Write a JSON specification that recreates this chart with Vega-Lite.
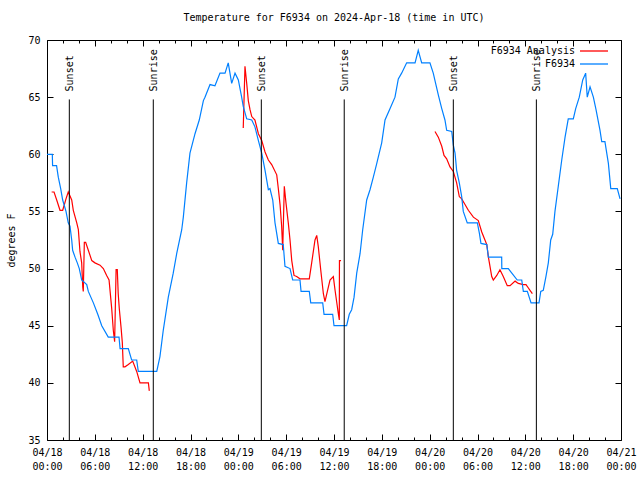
{
  "$schema": "https://vega.github.io/schema/vega-lite/v6.json",
  "width": 574,
  "height": 400,
  "autosize": {"type": "none"},
  "padding": {"left": 47, "top": 40, "right": 19, "bottom": 40},
  "background": "white",
  "title": {"text": "Temperature for F6934 on 2024-Apr-18 (time in UTC)", "font": "DejaVu Sans Mono", "fontSize": 10, "fontWeight": "normal", "color": "black", "anchor": "middle", "offset": 12},
  "config": {
    "font": "DejaVu Sans Mono",
    "view": {"stroke": "black", "strokeWidth": 1},
    "axis": {"labelFont": "DejaVu Sans Mono", "labelFontSize": 10, "labelColor": "black", "titleFont": "DejaVu Sans Mono", "titleFontSize": 10, "titleFontWeight": "normal", "titleColor": "black", "tickColor": "black", "domain": false, "grid": false}
  },
  "datasets": {
    "events": [
      {"label": "Sunset", "t": "2024-04-18T02:48:00Z"},
      {"label": "Sunrise", "t": "2024-04-18T13:20:00Z"},
      {"label": "Sunset", "t": "2024-04-19T02:53:00Z"},
      {"label": "Sunrise", "t": "2024-04-19T13:17:00Z"},
      {"label": "Sunset", "t": "2024-04-20T02:58:00Z"},
      {"label": "Sunrise", "t": "2024-04-20T13:23:00Z"}
    ],
    "temps": [
      {"s": "F6934 Analysis", "g": "a", "t": "2024-04-18T00:35:00Z", "v": 56.7},
      {"s": "F6934 Analysis", "g": "a", "t": "2024-04-18T00:53:00Z", "v": 56.7},
      {"s": "F6934 Analysis", "g": "a", "t": "2024-04-18T01:13:00Z", "v": 56.0},
      {"s": "F6934 Analysis", "g": "a", "t": "2024-04-18T01:38:00Z", "v": 55.1},
      {"s": "F6934 Analysis", "g": "a", "t": "2024-04-18T01:58:00Z", "v": 55.1},
      {"s": "F6934 Analysis", "g": "a", "t": "2024-04-18T02:23:00Z", "v": 56.1},
      {"s": "F6934 Analysis", "g": "a", "t": "2024-04-18T02:40:00Z", "v": 56.7},
      {"s": "F6934 Analysis", "g": "a", "t": "2024-04-18T03:06:00Z", "v": 56.0},
      {"s": "F6934 Analysis", "g": "a", "t": "2024-04-18T03:18:00Z", "v": 55.1},
      {"s": "F6934 Analysis", "g": "a", "t": "2024-04-18T03:44:00Z", "v": 54.0},
      {"s": "F6934 Analysis", "g": "a", "t": "2024-04-18T03:56:00Z", "v": 53.4},
      {"s": "F6934 Analysis", "g": "a", "t": "2024-04-18T04:08:00Z", "v": 51.5},
      {"s": "F6934 Analysis", "g": "a", "t": "2024-04-18T04:21:00Z", "v": 50.5},
      {"s": "F6934 Analysis", "g": "a", "t": "2024-04-18T04:29:00Z", "v": 48.4},
      {"s": "F6934 Analysis", "g": "a", "t": "2024-04-18T04:33:00Z", "v": 48.0},
      {"s": "F6934 Analysis", "g": "a", "t": "2024-04-18T04:41:00Z", "v": 52.3},
      {"s": "F6934 Analysis", "g": "a", "t": "2024-04-18T04:51:00Z", "v": 52.3},
      {"s": "F6934 Analysis", "g": "a", "t": "2024-04-18T05:11:00Z", "v": 51.6},
      {"s": "F6934 Analysis", "g": "a", "t": "2024-04-18T05:37:00Z", "v": 50.7},
      {"s": "F6934 Analysis", "g": "a", "t": "2024-04-18T06:01:00Z", "v": 50.5},
      {"s": "F6934 Analysis", "g": "a", "t": "2024-04-18T06:39:00Z", "v": 50.3},
      {"s": "F6934 Analysis", "g": "a", "t": "2024-04-18T07:04:00Z", "v": 50.0},
      {"s": "F6934 Analysis", "g": "a", "t": "2024-04-18T07:29:00Z", "v": 49.4},
      {"s": "F6934 Analysis", "g": "a", "t": "2024-04-18T07:47:00Z", "v": 49.0},
      {"s": "F6934 Analysis", "g": "a", "t": "2024-04-18T07:59:00Z", "v": 47.5},
      {"s": "F6934 Analysis", "g": "a", "t": "2024-04-18T08:07:00Z", "v": 46.5},
      {"s": "F6934 Analysis", "g": "a", "t": "2024-04-18T08:19:00Z", "v": 44.6},
      {"s": "F6934 Analysis", "g": "a", "t": "2024-04-18T08:29:00Z", "v": 43.6},
      {"s": "F6934 Analysis", "g": "a", "t": "2024-04-18T08:40:00Z", "v": 49.9},
      {"s": "F6934 Analysis", "g": "a", "t": "2024-04-18T08:49:00Z", "v": 49.9},
      {"s": "F6934 Analysis", "g": "a", "t": "2024-04-18T08:56:00Z", "v": 47.8},
      {"s": "F6934 Analysis", "g": "a", "t": "2024-04-18T09:04:00Z", "v": 46.5},
      {"s": "F6934 Analysis", "g": "a", "t": "2024-04-18T09:17:00Z", "v": 44.9},
      {"s": "F6934 Analysis", "g": "a", "t": "2024-04-18T09:27:00Z", "v": 43.5},
      {"s": "F6934 Analysis", "g": "a", "t": "2024-04-18T09:34:00Z", "v": 41.4},
      {"s": "F6934 Analysis", "g": "a", "t": "2024-04-18T09:47:00Z", "v": 41.4},
      {"s": "F6934 Analysis", "g": "a", "t": "2024-04-18T10:12:00Z", "v": 41.6},
      {"s": "F6934 Analysis", "g": "a", "t": "2024-04-18T10:45:00Z", "v": 41.9},
      {"s": "F6934 Analysis", "g": "a", "t": "2024-04-18T11:15:00Z", "v": 41.0},
      {"s": "F6934 Analysis", "g": "a", "t": "2024-04-18T11:40:00Z", "v": 40.0},
      {"s": "F6934 Analysis", "g": "a", "t": "2024-04-18T12:43:00Z", "v": 40.0},
      {"s": "F6934 Analysis", "g": "a", "t": "2024-04-18T12:50:00Z", "v": 39.3},
      {"s": "F6934 Analysis", "g": "b", "t": "2024-04-19T00:37:00Z", "v": 62.3},
      {"s": "F6934 Analysis", "g": "b", "t": "2024-04-19T00:50:00Z", "v": 67.7},
      {"s": "F6934 Analysis", "g": "b", "t": "2024-04-19T01:03:00Z", "v": 66.2},
      {"s": "F6934 Analysis", "g": "b", "t": "2024-04-19T01:15:00Z", "v": 64.7},
      {"s": "F6934 Analysis", "g": "b", "t": "2024-04-19T01:28:00Z", "v": 63.9},
      {"s": "F6934 Analysis", "g": "b", "t": "2024-04-19T01:41:00Z", "v": 63.3},
      {"s": "F6934 Analysis", "g": "b", "t": "2024-04-19T02:05:00Z", "v": 63.0},
      {"s": "F6934 Analysis", "g": "b", "t": "2024-04-19T02:31:00Z", "v": 61.8},
      {"s": "F6934 Analysis", "g": "b", "t": "2024-04-19T02:56:00Z", "v": 61.2},
      {"s": "F6934 Analysis", "g": "b", "t": "2024-04-19T03:21:00Z", "v": 60.2},
      {"s": "F6934 Analysis", "g": "b", "t": "2024-04-19T03:46:00Z", "v": 59.5},
      {"s": "F6934 Analysis", "g": "b", "t": "2024-04-19T04:11:00Z", "v": 59.1},
      {"s": "F6934 Analysis", "g": "b", "t": "2024-04-19T04:49:00Z", "v": 58.2},
      {"s": "F6934 Analysis", "g": "b", "t": "2024-04-19T05:01:00Z", "v": 57.0},
      {"s": "F6934 Analysis", "g": "b", "t": "2024-04-19T05:14:00Z", "v": 55.6},
      {"s": "F6934 Analysis", "g": "b", "t": "2024-04-19T05:26:00Z", "v": 53.7},
      {"s": "F6934 Analysis", "g": "b", "t": "2024-04-19T05:34:00Z", "v": 51.6},
      {"s": "F6934 Analysis", "g": "b", "t": "2024-04-19T05:46:00Z", "v": 57.2},
      {"s": "F6934 Analysis", "g": "b", "t": "2024-04-19T05:59:00Z", "v": 55.7},
      {"s": "F6934 Analysis", "g": "b", "t": "2024-04-19T06:16:00Z", "v": 54.0},
      {"s": "F6934 Analysis", "g": "b", "t": "2024-04-19T06:29:00Z", "v": 52.5},
      {"s": "F6934 Analysis", "g": "b", "t": "2024-04-19T06:42:00Z", "v": 50.7},
      {"s": "F6934 Analysis", "g": "b", "t": "2024-04-19T06:59:00Z", "v": 49.4},
      {"s": "F6934 Analysis", "g": "b", "t": "2024-04-19T07:19:00Z", "v": 49.3},
      {"s": "F6934 Analysis", "g": "b", "t": "2024-04-19T07:44:00Z", "v": 49.1},
      {"s": "F6934 Analysis", "g": "b", "t": "2024-04-19T08:54:00Z", "v": 49.1},
      {"s": "F6934 Analysis", "g": "b", "t": "2024-04-19T09:12:00Z", "v": 50.5},
      {"s": "F6934 Analysis", "g": "b", "t": "2024-04-19T09:37:00Z", "v": 52.5},
      {"s": "F6934 Analysis", "g": "b", "t": "2024-04-19T09:50:00Z", "v": 52.9},
      {"s": "F6934 Analysis", "g": "b", "t": "2024-04-19T10:02:00Z", "v": 51.9},
      {"s": "F6934 Analysis", "g": "b", "t": "2024-04-19T10:20:00Z", "v": 49.9},
      {"s": "F6934 Analysis", "g": "b", "t": "2024-04-19T10:40:00Z", "v": 47.8},
      {"s": "F6934 Analysis", "g": "b", "t": "2024-04-19T10:52:00Z", "v": 47.1},
      {"s": "F6934 Analysis", "g": "b", "t": "2024-04-19T11:10:00Z", "v": 48.0},
      {"s": "F6934 Analysis", "g": "b", "t": "2024-04-19T11:30:00Z", "v": 49.0},
      {"s": "F6934 Analysis", "g": "b", "t": "2024-04-19T11:55:00Z", "v": 49.3},
      {"s": "F6934 Analysis", "g": "b", "t": "2024-04-19T12:08:00Z", "v": 48.1},
      {"s": "F6934 Analysis", "g": "b", "t": "2024-04-19T12:20:00Z", "v": 47.1},
      {"s": "F6934 Analysis", "g": "b", "t": "2024-04-19T12:32:00Z", "v": 46.1},
      {"s": "F6934 Analysis", "g": "b", "t": "2024-04-19T12:40:00Z", "v": 45.5},
      {"s": "F6934 Analysis", "g": "b", "t": "2024-04-19T12:41:00Z", "v": 50.7},
      {"s": "F6934 Analysis", "g": "b", "t": "2024-04-19T12:53:00Z", "v": 50.7},
      {"s": "F6934 Analysis", "g": "c", "t": "2024-04-20T00:40:00Z", "v": 62.0},
      {"s": "F6934 Analysis", "g": "c", "t": "2024-04-20T01:05:00Z", "v": 61.5},
      {"s": "F6934 Analysis", "g": "c", "t": "2024-04-20T01:31:00Z", "v": 60.7},
      {"s": "F6934 Analysis", "g": "c", "t": "2024-04-20T01:48:00Z", "v": 59.9},
      {"s": "F6934 Analysis", "g": "c", "t": "2024-04-20T02:08:00Z", "v": 59.6},
      {"s": "F6934 Analysis", "g": "c", "t": "2024-04-20T02:33:00Z", "v": 58.9},
      {"s": "F6934 Analysis", "g": "c", "t": "2024-04-20T02:58:00Z", "v": 58.5},
      {"s": "F6934 Analysis", "g": "c", "t": "2024-04-20T03:23:00Z", "v": 57.5},
      {"s": "F6934 Analysis", "g": "c", "t": "2024-04-20T03:43:00Z", "v": 56.3},
      {"s": "F6934 Analysis", "g": "c", "t": "2024-04-20T04:01:00Z", "v": 56.1},
      {"s": "F6934 Analysis", "g": "c", "t": "2024-04-20T04:26:00Z", "v": 55.6},
      {"s": "F6934 Analysis", "g": "c", "t": "2024-04-20T04:51:00Z", "v": 55.1},
      {"s": "F6934 Analysis", "g": "c", "t": "2024-04-20T05:29:00Z", "v": 54.5},
      {"s": "F6934 Analysis", "g": "c", "t": "2024-04-20T06:06:00Z", "v": 54.2},
      {"s": "F6934 Analysis", "g": "c", "t": "2024-04-20T06:32:00Z", "v": 53.2},
      {"s": "F6934 Analysis", "g": "c", "t": "2024-04-20T06:56:00Z", "v": 52.5},
      {"s": "F6934 Analysis", "g": "c", "t": "2024-04-20T07:10:00Z", "v": 52.1},
      {"s": "F6934 Analysis", "g": "c", "t": "2024-04-20T07:22:00Z", "v": 51.0},
      {"s": "F6934 Analysis", "g": "c", "t": "2024-04-20T07:34:00Z", "v": 50.2},
      {"s": "F6934 Analysis", "g": "c", "t": "2024-04-20T07:47:00Z", "v": 49.3},
      {"s": "F6934 Analysis", "g": "c", "t": "2024-04-20T07:59:00Z", "v": 49.0},
      {"s": "F6934 Analysis", "g": "c", "t": "2024-04-20T08:25:00Z", "v": 49.4},
      {"s": "F6934 Analysis", "g": "c", "t": "2024-04-20T08:49:00Z", "v": 49.9},
      {"s": "F6934 Analysis", "g": "c", "t": "2024-04-20T09:14:00Z", "v": 49.3},
      {"s": "F6934 Analysis", "g": "c", "t": "2024-04-20T09:44:00Z", "v": 48.5},
      {"s": "F6934 Analysis", "g": "c", "t": "2024-04-20T10:05:00Z", "v": 48.5},
      {"s": "F6934 Analysis", "g": "c", "t": "2024-04-20T10:43:00Z", "v": 48.9},
      {"s": "F6934 Analysis", "g": "c", "t": "2024-04-20T11:07:00Z", "v": 48.7},
      {"s": "F6934 Analysis", "g": "c", "t": "2024-04-20T11:45:00Z", "v": 48.6},
      {"s": "F6934 Analysis", "g": "c", "t": "2024-04-20T12:05:00Z", "v": 48.6},
      {"s": "F6934 Analysis", "g": "c", "t": "2024-04-20T12:23:00Z", "v": 48.3},
      {"s": "F6934 Analysis", "g": "c", "t": "2024-04-20T12:35:00Z", "v": 48.1},
      {"s": "F6934 Analysis", "g": "c", "t": "2024-04-20T12:53:00Z", "v": 47.8},
      {"s": "F6934", "g": "o", "t": "2024-04-18T00:00:00Z", "v": 60},
      {"s": "F6934", "g": "o", "t": "2024-04-18T00:40:00Z", "v": 60},
      {"s": "F6934", "g": "o", "t": "2024-04-18T00:42:00Z", "v": 59},
      {"s": "F6934", "g": "o", "t": "2024-04-18T01:12:00Z", "v": 59},
      {"s": "F6934", "g": "o", "t": "2024-04-18T01:25:00Z", "v": 58},
      {"s": "F6934", "g": "o", "t": "2024-04-18T01:43:00Z", "v": 57},
      {"s": "F6934", "g": "o", "t": "2024-04-18T01:58:00Z", "v": 56},
      {"s": "F6934", "g": "o", "t": "2024-04-18T02:23:00Z", "v": 55},
      {"s": "F6934", "g": "o", "t": "2024-04-18T02:40:00Z", "v": 54},
      {"s": "F6934", "g": "o", "t": "2024-04-18T02:53:00Z", "v": 53.7},
      {"s": "F6934", "g": "o", "t": "2024-04-18T03:06:00Z", "v": 52.5},
      {"s": "F6934", "g": "o", "t": "2024-04-18T03:13:00Z", "v": 51.6},
      {"s": "F6934", "g": "o", "t": "2024-04-18T03:31:00Z", "v": 51},
      {"s": "F6934", "g": "o", "t": "2024-04-18T03:48:00Z", "v": 50.5},
      {"s": "F6934", "g": "o", "t": "2024-04-18T04:03:00Z", "v": 50},
      {"s": "F6934", "g": "o", "t": "2024-04-18T04:21:00Z", "v": 49},
      {"s": "F6934", "g": "o", "t": "2024-04-18T04:59:00Z", "v": 48.6},
      {"s": "F6934", "g": "o", "t": "2024-04-18T05:11:00Z", "v": 48},
      {"s": "F6934", "g": "o", "t": "2024-04-18T05:49:00Z", "v": 47},
      {"s": "F6934", "g": "o", "t": "2024-04-18T06:22:00Z", "v": 46},
      {"s": "F6934", "g": "o", "t": "2024-04-18T06:52:00Z", "v": 45},
      {"s": "F6934", "g": "o", "t": "2024-04-18T07:41:00Z", "v": 44},
      {"s": "F6934", "g": "o", "t": "2024-04-18T09:02:00Z", "v": 44},
      {"s": "F6934", "g": "o", "t": "2024-04-18T09:10:00Z", "v": 43},
      {"s": "F6934", "g": "o", "t": "2024-04-18T10:12:00Z", "v": 43},
      {"s": "F6934", "g": "o", "t": "2024-04-18T10:37:00Z", "v": 42},
      {"s": "F6934", "g": "o", "t": "2024-04-18T11:15:00Z", "v": 42},
      {"s": "F6934", "g": "o", "t": "2024-04-18T11:27:00Z", "v": 41},
      {"s": "F6934", "g": "o", "t": "2024-04-18T13:46:00Z", "v": 41},
      {"s": "F6934", "g": "o", "t": "2024-04-18T14:10:00Z", "v": 42.3},
      {"s": "F6934", "g": "o", "t": "2024-04-18T14:35:00Z", "v": 44.6},
      {"s": "F6934", "g": "o", "t": "2024-04-18T15:13:00Z", "v": 47.5},
      {"s": "F6934", "g": "o", "t": "2024-04-18T15:50:00Z", "v": 49.6},
      {"s": "F6934", "g": "o", "t": "2024-04-18T16:16:00Z", "v": 51.3},
      {"s": "F6934", "g": "o", "t": "2024-04-18T16:54:00Z", "v": 53.4},
      {"s": "F6934", "g": "o", "t": "2024-04-18T17:06:00Z", "v": 54.5},
      {"s": "F6934", "g": "o", "t": "2024-04-18T17:31:00Z", "v": 57.5},
      {"s": "F6934", "g": "o", "t": "2024-04-18T17:56:00Z", "v": 60.1},
      {"s": "F6934", "g": "o", "t": "2024-04-18T18:34:00Z", "v": 61.8},
      {"s": "F6934", "g": "o", "t": "2024-04-18T19:06:00Z", "v": 63},
      {"s": "F6934", "g": "o", "t": "2024-04-18T19:37:00Z", "v": 64.7},
      {"s": "F6934", "g": "o", "t": "2024-04-18T19:49:00Z", "v": 65},
      {"s": "F6934", "g": "o", "t": "2024-04-18T20:27:00Z", "v": 66.1},
      {"s": "F6934", "g": "o", "t": "2024-04-18T21:04:00Z", "v": 66},
      {"s": "F6934", "g": "o", "t": "2024-04-18T21:42:00Z", "v": 67.1},
      {"s": "F6934", "g": "o", "t": "2024-04-18T22:20:00Z", "v": 67.1},
      {"s": "F6934", "g": "o", "t": "2024-04-18T22:44:00Z", "v": 68},
      {"s": "F6934", "g": "o", "t": "2024-04-18T23:10:00Z", "v": 66.2},
      {"s": "F6934", "g": "o", "t": "2024-04-18T23:35:00Z", "v": 67.1},
      {"s": "F6934", "g": "o", "t": "2024-04-19T00:00:00Z", "v": 66.5},
      {"s": "F6934", "g": "o", "t": "2024-04-19T00:25:00Z", "v": 65.0},
      {"s": "F6934", "g": "o", "t": "2024-04-19T00:37:00Z", "v": 64.2},
      {"s": "F6934", "g": "o", "t": "2024-04-19T01:03:00Z", "v": 63.1},
      {"s": "F6934", "g": "o", "t": "2024-04-19T01:41:00Z", "v": 63.0},
      {"s": "F6934", "g": "o", "t": "2024-04-19T02:05:00Z", "v": 62.4},
      {"s": "F6934", "g": "o", "t": "2024-04-19T02:31:00Z", "v": 61.2},
      {"s": "F6934", "g": "o", "t": "2024-04-19T02:56:00Z", "v": 60.1},
      {"s": "F6934", "g": "o", "t": "2024-04-19T03:21:00Z", "v": 58.6},
      {"s": "F6934", "g": "o", "t": "2024-04-19T03:46:00Z", "v": 56.9},
      {"s": "F6934", "g": "o", "t": "2024-04-19T03:58:00Z", "v": 57.0},
      {"s": "F6934", "g": "o", "t": "2024-04-19T04:19:00Z", "v": 56},
      {"s": "F6934", "g": "o", "t": "2024-04-19T04:36:00Z", "v": 54.0},
      {"s": "F6934", "g": "o", "t": "2024-04-19T05:01:00Z", "v": 52.2},
      {"s": "F6934", "g": "o", "t": "2024-04-19T05:38:00Z", "v": 52.1},
      {"s": "F6934", "g": "o", "t": "2024-04-19T05:51:00Z", "v": 50.2},
      {"s": "F6934", "g": "o", "t": "2024-04-19T06:29:00Z", "v": 50.0},
      {"s": "F6934", "g": "o", "t": "2024-04-19T06:49:00Z", "v": 49},
      {"s": "F6934", "g": "o", "t": "2024-04-19T07:44:00Z", "v": 49},
      {"s": "F6934", "g": "o", "t": "2024-04-19T07:52:00Z", "v": 48},
      {"s": "F6934", "g": "o", "t": "2024-04-19T08:54:00Z", "v": 48},
      {"s": "F6934", "g": "o", "t": "2024-04-19T09:05:00Z", "v": 47},
      {"s": "F6934", "g": "o", "t": "2024-04-19T10:35:00Z", "v": 47},
      {"s": "F6934", "g": "o", "t": "2024-04-19T10:45:00Z", "v": 46},
      {"s": "F6934", "g": "o", "t": "2024-04-19T11:50:00Z", "v": 46},
      {"s": "F6934", "g": "o", "t": "2024-04-19T12:00:00Z", "v": 45},
      {"s": "F6934", "g": "o", "t": "2024-04-19T13:35:00Z", "v": 45},
      {"s": "F6934", "g": "o", "t": "2024-04-19T13:55:00Z", "v": 46},
      {"s": "F6934", "g": "o", "t": "2024-04-19T14:13:00Z", "v": 46.4},
      {"s": "F6934", "g": "o", "t": "2024-04-19T14:31:00Z", "v": 47.5},
      {"s": "F6934", "g": "o", "t": "2024-04-19T14:51:00Z", "v": 49.6},
      {"s": "F6934", "g": "o", "t": "2024-04-19T15:16:00Z", "v": 51.3},
      {"s": "F6934", "g": "o", "t": "2024-04-19T15:36:00Z", "v": 53.4},
      {"s": "F6934", "g": "o", "t": "2024-04-19T16:06:00Z", "v": 56.0},
      {"s": "F6934", "g": "o", "t": "2024-04-19T16:31:00Z", "v": 56.9},
      {"s": "F6934", "g": "o", "t": "2024-04-19T16:56:00Z", "v": 58},
      {"s": "F6934", "g": "o", "t": "2024-04-19T17:22:00Z", "v": 59.2},
      {"s": "F6934", "g": "o", "t": "2024-04-19T17:59:00Z", "v": 61.0},
      {"s": "F6934", "g": "o", "t": "2024-04-19T18:24:00Z", "v": 63.0},
      {"s": "F6934", "g": "o", "t": "2024-04-19T19:02:00Z", "v": 64},
      {"s": "F6934", "g": "o", "t": "2024-04-19T19:39:00Z", "v": 65},
      {"s": "F6934", "g": "o", "t": "2024-04-19T20:04:00Z", "v": 66.6},
      {"s": "F6934", "g": "o", "t": "2024-04-19T20:29:00Z", "v": 67.1},
      {"s": "F6934", "g": "o", "t": "2024-04-19T21:07:00Z", "v": 68},
      {"s": "F6934", "g": "o", "t": "2024-04-19T22:10:00Z", "v": 68},
      {"s": "F6934", "g": "o", "t": "2024-04-19T22:34:00Z", "v": 69.1},
      {"s": "F6934", "g": "o", "t": "2024-04-19T23:00:00Z", "v": 68},
      {"s": "F6934", "g": "o", "t": "2024-04-20T00:02:00Z", "v": 68},
      {"s": "F6934", "g": "o", "t": "2024-04-20T00:27:00Z", "v": 67.1},
      {"s": "F6934", "g": "o", "t": "2024-04-20T00:47:00Z", "v": 66.1},
      {"s": "F6934", "g": "o", "t": "2024-04-20T01:05:00Z", "v": 65.2},
      {"s": "F6934", "g": "o", "t": "2024-04-20T01:31:00Z", "v": 64},
      {"s": "F6934", "g": "o", "t": "2024-04-20T01:55:00Z", "v": 63},
      {"s": "F6934", "g": "o", "t": "2024-04-20T02:08:00Z", "v": 62.1},
      {"s": "F6934", "g": "o", "t": "2024-04-20T02:46:00Z", "v": 62},
      {"s": "F6934", "g": "o", "t": "2024-04-20T02:58:00Z", "v": 60.8},
      {"s": "F6934", "g": "o", "t": "2024-04-20T03:11:00Z", "v": 60.1},
      {"s": "F6934", "g": "o", "t": "2024-04-20T03:23:00Z", "v": 58.6},
      {"s": "F6934", "g": "o", "t": "2024-04-20T03:43:00Z", "v": 57.5},
      {"s": "F6934", "g": "o", "t": "2024-04-20T04:01:00Z", "v": 56.3},
      {"s": "F6934", "g": "o", "t": "2024-04-20T04:13:00Z", "v": 55.0},
      {"s": "F6934", "g": "o", "t": "2024-04-20T04:43:00Z", "v": 54},
      {"s": "F6934", "g": "o", "t": "2024-04-20T05:59:00Z", "v": 54},
      {"s": "F6934", "g": "o", "t": "2024-04-20T06:14:00Z", "v": 53.1},
      {"s": "F6934", "g": "o", "t": "2024-04-20T06:26:00Z", "v": 52.2},
      {"s": "F6934", "g": "o", "t": "2024-04-20T07:10:00Z", "v": 52.1},
      {"s": "F6934", "g": "o", "t": "2024-04-20T07:22:00Z", "v": 51},
      {"s": "F6934", "g": "o", "t": "2024-04-20T09:02:00Z", "v": 51},
      {"s": "F6934", "g": "o", "t": "2024-04-20T09:03:00Z", "v": 50},
      {"s": "F6934", "g": "o", "t": "2024-04-20T09:52:00Z", "v": 50},
      {"s": "F6934", "g": "o", "t": "2024-04-20T10:59:00Z", "v": 49},
      {"s": "F6934", "g": "o", "t": "2024-04-20T11:33:00Z", "v": 49},
      {"s": "F6934", "g": "o", "t": "2024-04-20T11:45:00Z", "v": 48},
      {"s": "F6934", "g": "o", "t": "2024-04-20T12:15:00Z", "v": 48},
      {"s": "F6934", "g": "o", "t": "2024-04-20T12:43:00Z", "v": 47},
      {"s": "F6934", "g": "o", "t": "2024-04-20T13:43:00Z", "v": 47},
      {"s": "F6934", "g": "o", "t": "2024-04-20T13:56:00Z", "v": 48},
      {"s": "F6934", "g": "o", "t": "2024-04-20T14:15:00Z", "v": 48.1},
      {"s": "F6934", "g": "o", "t": "2024-04-20T14:35:00Z", "v": 49.3},
      {"s": "F6934", "g": "o", "t": "2024-04-20T14:53:00Z", "v": 50.5},
      {"s": "F6934", "g": "o", "t": "2024-04-20T15:11:00Z", "v": 52.5},
      {"s": "F6934", "g": "o", "t": "2024-04-20T15:26:00Z", "v": 53.0},
      {"s": "F6934", "g": "o", "t": "2024-04-20T15:43:00Z", "v": 55.0},
      {"s": "F6934", "g": "o", "t": "2024-04-20T16:08:00Z", "v": 57.2},
      {"s": "F6934", "g": "o", "t": "2024-04-20T16:34:00Z", "v": 59.5},
      {"s": "F6934", "g": "o", "t": "2024-04-20T16:59:00Z", "v": 61.5},
      {"s": "F6934", "g": "o", "t": "2024-04-20T17:23:00Z", "v": 63.1},
      {"s": "F6934", "g": "o", "t": "2024-04-20T18:01:00Z", "v": 63.1},
      {"s": "F6934", "g": "o", "t": "2024-04-20T18:19:00Z", "v": 64},
      {"s": "F6934", "g": "o", "t": "2024-04-20T18:46:00Z", "v": 65},
      {"s": "F6934", "g": "o", "t": "2024-04-20T19:12:00Z", "v": 66.5},
      {"s": "F6934", "g": "o", "t": "2024-04-20T19:34:00Z", "v": 67.1},
      {"s": "F6934", "g": "o", "t": "2024-04-20T19:46:00Z", "v": 65},
      {"s": "F6934", "g": "o", "t": "2024-04-20T20:07:00Z", "v": 65.9},
      {"s": "F6934", "g": "o", "t": "2024-04-20T20:32:00Z", "v": 65},
      {"s": "F6934", "g": "o", "t": "2024-04-20T20:52:00Z", "v": 63.9},
      {"s": "F6934", "g": "o", "t": "2024-04-20T21:22:00Z", "v": 62.1},
      {"s": "F6934", "g": "o", "t": "2024-04-20T21:35:00Z", "v": 61.1},
      {"s": "F6934", "g": "o", "t": "2024-04-20T21:59:00Z", "v": 61.1},
      {"s": "F6934", "g": "o", "t": "2024-04-20T22:25:00Z", "v": 59.2},
      {"s": "F6934", "g": "o", "t": "2024-04-20T22:43:00Z", "v": 57},
      {"s": "F6934", "g": "o", "t": "2024-04-20T23:32:00Z", "v": 57},
      {"s": "F6934", "g": "o", "t": "2024-04-20T23:53:00Z", "v": 56.1}
    ]
  },
  "layer": [
    {
      "data": {"name": "temps"},
      "mark": {"type": "line", "strokeWidth": 1.2},
      "encoding": {
        "x": {"field": "t", "type": "temporal",
          "scale": {"type": "utc", "domain": [{"year": 2024, "month": 4, "date": 18, "utc": true}, {"year": 2024, "month": 4, "date": 21, "utc": true}], "nice": false},
          "axis": {"orient": "bottom", "title": null, "tickSize": -6,
            "values": [
              {"year": 2024, "month": 4, "date": 18, "hours": 0, "utc": true}, {"year": 2024, "month": 4, "date": 18, "hours": 2, "utc": true}, {"year": 2024, "month": 4, "date": 18, "hours": 4, "utc": true},
              {"year": 2024, "month": 4, "date": 18, "hours": 6, "utc": true}, {"year": 2024, "month": 4, "date": 18, "hours": 8, "utc": true}, {"year": 2024, "month": 4, "date": 18, "hours": 10, "utc": true},
              {"year": 2024, "month": 4, "date": 18, "hours": 12, "utc": true}, {"year": 2024, "month": 4, "date": 18, "hours": 14, "utc": true}, {"year": 2024, "month": 4, "date": 18, "hours": 16, "utc": true},
              {"year": 2024, "month": 4, "date": 18, "hours": 18, "utc": true}, {"year": 2024, "month": 4, "date": 18, "hours": 20, "utc": true}, {"year": 2024, "month": 4, "date": 18, "hours": 22, "utc": true},
              {"year": 2024, "month": 4, "date": 19, "hours": 0, "utc": true}, {"year": 2024, "month": 4, "date": 19, "hours": 2, "utc": true}, {"year": 2024, "month": 4, "date": 19, "hours": 4, "utc": true},
              {"year": 2024, "month": 4, "date": 19, "hours": 6, "utc": true}, {"year": 2024, "month": 4, "date": 19, "hours": 8, "utc": true}, {"year": 2024, "month": 4, "date": 19, "hours": 10, "utc": true},
              {"year": 2024, "month": 4, "date": 19, "hours": 12, "utc": true}, {"year": 2024, "month": 4, "date": 19, "hours": 14, "utc": true}, {"year": 2024, "month": 4, "date": 19, "hours": 16, "utc": true},
              {"year": 2024, "month": 4, "date": 19, "hours": 18, "utc": true}, {"year": 2024, "month": 4, "date": 19, "hours": 20, "utc": true}, {"year": 2024, "month": 4, "date": 19, "hours": 22, "utc": true},
              {"year": 2024, "month": 4, "date": 20, "hours": 0, "utc": true}, {"year": 2024, "month": 4, "date": 20, "hours": 2, "utc": true}, {"year": 2024, "month": 4, "date": 20, "hours": 4, "utc": true},
              {"year": 2024, "month": 4, "date": 20, "hours": 6, "utc": true}, {"year": 2024, "month": 4, "date": 20, "hours": 8, "utc": true}, {"year": 2024, "month": 4, "date": 20, "hours": 10, "utc": true},
              {"year": 2024, "month": 4, "date": 20, "hours": 12, "utc": true}, {"year": 2024, "month": 4, "date": 20, "hours": 14, "utc": true}, {"year": 2024, "month": 4, "date": 20, "hours": 16, "utc": true},
              {"year": 2024, "month": 4, "date": 20, "hours": 18, "utc": true}, {"year": 2024, "month": 4, "date": 20, "hours": 20, "utc": true}, {"year": 2024, "month": 4, "date": 20, "hours": 22, "utc": true},
              {"year": 2024, "month": 4, "date": 21, "hours": 0, "utc": true}
            ],
            "tickDash": {"condition": {"test": "utchours(datum.value) % 6 != 0", "value": [3, 20]}, "value": [20, 0]},
            "labelExpr": "utchours(datum.value) % 6 == 0 ? [utcFormat(datum.value, '%m/%d'), utcFormat(datum.value, '%H:%M')] : ''",
            "labelPadding": 13, "labelBaseline": "top", "labelLineHeight": 14, "labelFlush": false, "labelOverlap": false}},
        "y": {"field": "v", "type": "quantitative",
          "scale": {"domain": [35, 70], "nice": false, "zero": false},
          "axis": {"orient": "left", "title": "degrees F", "values": [35, 40, 45, 50, 55, 60, 65, 70], "tickSize": -6, "labelPadding": 13, "titlePadding": 11}},
        "color": {"field": "s", "type": "nominal",
          "scale": {"domain": ["F6934 Analysis", "F6934"], "range": ["#ff0000", "#0080ff"]},
          "legend": {"orient": "none", "legendX": 441, "legendY": 5, "title": null, "symbolType": "M-2.8,0H2.8", "symbolSize": 100, "symbolStrokeWidth": 1.3, "labelFont": "DejaVu Sans Mono", "labelFontSize": 10, "labelColor": "black", "labelAlign": "right", "labelOffset": -25, "symbolOffset": 100, "rowPadding": 2, "padding": 0}},
        "detail": {"field": "g", "type": "nominal"}
      }
    },
    {
      "data": {"name": "events"},
      "mark": {"type": "rule", "color": "black", "strokeWidth": 1},
      "encoding": {
        "x": {"field": "t", "type": "temporal",
          "axis": {"orient": "top", "title": null, "labels": false, "tickSize": -6,
            "values": [
              {"year": 2024, "month": 4, "date": 18, "hours": 0, "utc": true}, {"year": 2024, "month": 4, "date": 18, "hours": 2, "utc": true}, {"year": 2024, "month": 4, "date": 18, "hours": 4, "utc": true},
              {"year": 2024, "month": 4, "date": 18, "hours": 6, "utc": true}, {"year": 2024, "month": 4, "date": 18, "hours": 8, "utc": true}, {"year": 2024, "month": 4, "date": 18, "hours": 10, "utc": true},
              {"year": 2024, "month": 4, "date": 18, "hours": 12, "utc": true}, {"year": 2024, "month": 4, "date": 18, "hours": 14, "utc": true}, {"year": 2024, "month": 4, "date": 18, "hours": 16, "utc": true},
              {"year": 2024, "month": 4, "date": 18, "hours": 18, "utc": true}, {"year": 2024, "month": 4, "date": 18, "hours": 20, "utc": true}, {"year": 2024, "month": 4, "date": 18, "hours": 22, "utc": true},
              {"year": 2024, "month": 4, "date": 19, "hours": 0, "utc": true}, {"year": 2024, "month": 4, "date": 19, "hours": 2, "utc": true}, {"year": 2024, "month": 4, "date": 19, "hours": 4, "utc": true},
              {"year": 2024, "month": 4, "date": 19, "hours": 6, "utc": true}, {"year": 2024, "month": 4, "date": 19, "hours": 8, "utc": true}, {"year": 2024, "month": 4, "date": 19, "hours": 10, "utc": true},
              {"year": 2024, "month": 4, "date": 19, "hours": 12, "utc": true}, {"year": 2024, "month": 4, "date": 19, "hours": 14, "utc": true}, {"year": 2024, "month": 4, "date": 19, "hours": 16, "utc": true},
              {"year": 2024, "month": 4, "date": 19, "hours": 18, "utc": true}, {"year": 2024, "month": 4, "date": 19, "hours": 20, "utc": true}, {"year": 2024, "month": 4, "date": 19, "hours": 22, "utc": true},
              {"year": 2024, "month": 4, "date": 20, "hours": 0, "utc": true}, {"year": 2024, "month": 4, "date": 20, "hours": 2, "utc": true}, {"year": 2024, "month": 4, "date": 20, "hours": 4, "utc": true},
              {"year": 2024, "month": 4, "date": 20, "hours": 6, "utc": true}, {"year": 2024, "month": 4, "date": 20, "hours": 8, "utc": true}, {"year": 2024, "month": 4, "date": 20, "hours": 10, "utc": true},
              {"year": 2024, "month": 4, "date": 20, "hours": 12, "utc": true}, {"year": 2024, "month": 4, "date": 20, "hours": 14, "utc": true}, {"year": 2024, "month": 4, "date": 20, "hours": 16, "utc": true},
              {"year": 2024, "month": 4, "date": 20, "hours": 18, "utc": true}, {"year": 2024, "month": 4, "date": 20, "hours": 20, "utc": true}, {"year": 2024, "month": 4, "date": 20, "hours": 22, "utc": true},
              {"year": 2024, "month": 4, "date": 21, "hours": 0, "utc": true}
            ],
            "tickDash": {"condition": {"test": "utchours(datum.value) % 6 != 0", "value": [3, 20]}, "value": [20, 0]}}},
        "y": {"datum": 35, "type": "quantitative", "axis": null},
        "y2": {"datum": 64.8}
      }
    },
    {
      "data": {"name": "events"},
      "mark": {"type": "text", "angle": 270, "align": "left", "baseline": "middle", "fontSize": 10, "font": "DejaVu Sans Mono", "color": "black", "dy": 1},
      "encoding": {
        "x": {"field": "t", "type": "temporal", "axis": null},
        "y": {"datum": 65.5, "type": "quantitative",
          "axis": {"orient": "right", "title": null, "labels": false, "values": [35, 40, 45, 50, 55, 60, 65, 70], "tickSize": -6}},
        "text": {"field": "label"}
      }
    }
  ]
}
